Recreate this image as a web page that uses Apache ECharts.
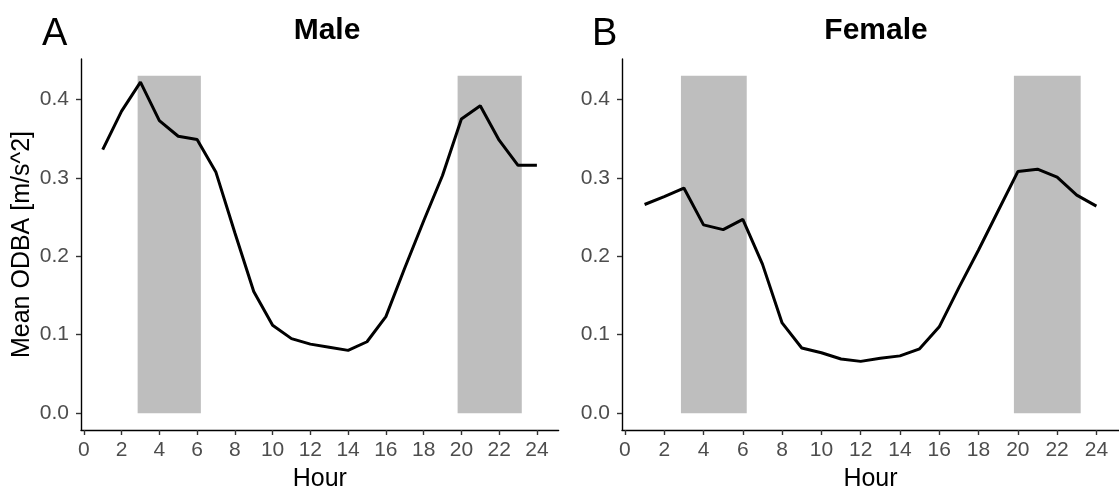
<!DOCTYPE html>
<html>
<head>
<meta charset="utf-8">
<script src="https://cdn.jsdelivr.net/npm/echarts@6/dist/echarts.min.js"></script>
<style>
  html, body { margin: 0; padding: 0; background: #ffffff; }
  #chart { width: 1119px; height: 497px; }
</style>
</head>
<body>
<div id="chart"></div>
<script>
// Hour of day (1..24)
const hours = [1, 2, 3, 4, 5, 6, 7, 8, 9, 10, 11, 12, 13, 14, 15, 16, 17, 18, 19, 20, 21, 22, 23, 24];

// Mean ODBA per hour [m/s^2]
const maleOdba = [0.336, 0.385, 0.422, 0.373, 0.353, 0.349, 0.307, 0.230, 0.155, 0.112, 0.095, 0.088,
                  0.084, 0.080, 0.091, 0.123, 0.185, 0.245, 0.303, 0.375, 0.392, 0.348, 0.316, 0.316];
const femaleOdba = [0.266, 0.276, 0.287, 0.240, 0.234, 0.247, 0.190, 0.115, 0.083, 0.077, 0.069, 0.066,
                    0.070, 0.073, 0.082, 0.110, 0.160, 0.208, 0.258, 0.308, 0.311, 0.301, 0.278, 0.264];

// Shaded twilight windows (hours) and their height
const shadeStart = [2.85, 19.8];
const shadeEnd = [6.2, 23.2];
const shadeTop = 0.43;

// Tick values
const hourTicks = [0, 2, 4, 6, 8, 10, 12, 14, 16, 18, 20, 22, 24];
const odbaTicks = [0, 0.1, 0.2, 0.3, 0.4];

const FONT = 'Liberation Sans, Arial, sans-serif';

function shadeAreas() {
  return shadeStart.map((s, i) => [
    { xAxis: s, yAxis: 0 },
    { xAxis: shadeEnd[i], yAxis: shadeTop }
  ]);
}

function xAxisFor(gridIndex) {
  return {
    type: 'value', gridIndex: gridIndex,
    min: -0.15, max: 25.15,
    axisLine: { show: true, onZero: false, lineStyle: { color: '#000000', width: 1.4 } },
    axisTick: { show: true, customValues: hourTicks, length: 5, lineStyle: { color: '#333333', width: 1.4 } },
    axisLabel: { customValues: hourTicks, fontSize: 21, color: '#4d4d4d', margin: 10, fontFamily: FONT },
    splitLine: { show: false },
    name: 'Hour', nameLocation: 'middle', nameGap: 37,
    nameTextStyle: { fontSize: 25, color: '#000000', fontFamily: FONT }
  };
}

function yAxisFor(gridIndex, title) {
  const ax = {
    type: 'value', gridIndex: gridIndex,
    min: -0.0215, max: 0.4515,
    axisLine: { show: true, onZero: false, lineStyle: { color: '#000000', width: 1.4 } },
    axisTick: { show: true, customValues: odbaTicks, length: 5, lineStyle: { color: '#333333', width: 1.4 } },
    axisLabel: { customValues: odbaTicks, fontSize: 21, color: '#4d4d4d', margin: 12, fontFamily: FONT,
                 formatter: v => v.toFixed(1) },
    splitLine: { show: false }
  };
  if (title) {
    ax.name = title;
    ax.nameLocation = 'middle';
    ax.nameRotate = 90;
    ax.nameGap = 46;
    ax.nameTextStyle = { fontSize: 25, color: '#000000', fontFamily: FONT };
  }
  return ax;
}

function lineSeries(idx, values) {
  return {
    type: 'line', xAxisIndex: idx, yAxisIndex: idx,
    data: hours.map((h, i) => [h, values[i]]),
    showSymbol: false, symbol: 'none',
    lineStyle: { color: '#000000', width: 3 },
    silent: true, animation: false,
    markArea: {
      silent: true,
      itemStyle: { color: '#bebebe' },
      data: shadeAreas()
    }
  };
}

const titleStyle = (size, weight) => ({ fontSize: size, fontWeight: weight, color: '#000000', fontFamily: FONT });

const option = {
  backgroundColor: '#ffffff',
  animation: false,
  textStyle: { fontFamily: FONT },
  title: [
    { text: 'A', left: 42, top: 16, padding: 0, textStyle: titleStyle(38, 'normal') },
    { text: 'Male', left: 327, top: 16, padding: 0, textAlign: 'center', textStyle: titleStyle(30, 'bold') },
    { text: 'B', left: 592, top: 16, padding: 0, textStyle: titleStyle(38, 'normal') },
    { text: 'Female', left: 876, top: 16, padding: 0, textAlign: 'center', textStyle: titleStyle(30, 'bold') }
  ],
  grid: [
    { left: 81, right: 560.4, top: 59, bottom: 58.5 },
    { left: 622, right: -11.3, top: 59, bottom: 58.5 }
  ],
  xAxis: [xAxisFor(0), xAxisFor(1)],
  yAxis: [yAxisFor(0, 'Mean ODBA [m/s^2]'), yAxisFor(1, null)],
  series: [lineSeries(0, maleOdba), lineSeries(1, femaleOdba)]
};

const chart = echarts.init(document.getElementById('chart'), null, { renderer: 'canvas' });
chart.setOption(option);
</script>
</body>
</html>
